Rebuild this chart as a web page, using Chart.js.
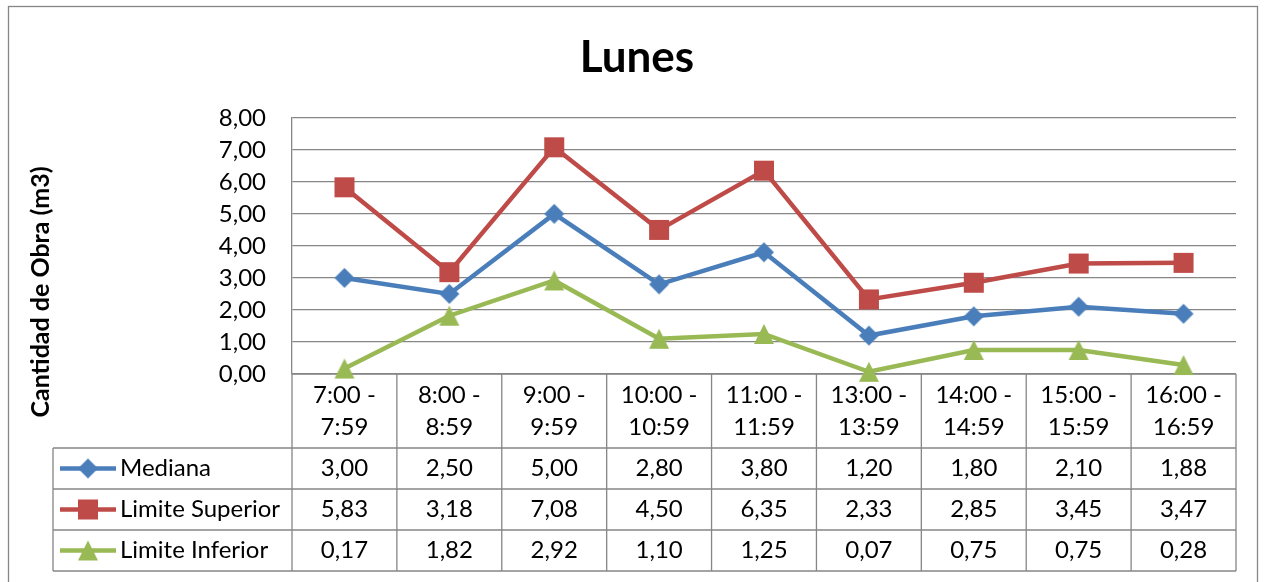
<!DOCTYPE html>
<html><head><meta charset="utf-8">
<script src="https://cdn.jsdelivr.net/npm/chart.js@4"></script>
<style>html,body{margin:0;padding:0;background:#fff}canvas{display:block}</style>
</head><body>
<canvas id="c" width="1264" height="582"></canvas>
<script>
const categories = ['7:00 - 7:59','8:00 - 8:59','9:00 - 9:59','10:00 - 10:59','11:00 - 11:59','13:00 - 13:59','14:00 - 14:59','15:00 - 15:59','16:00 - 16:59'];
const mediana = [3.00, 2.50, 5.00, 2.80, 3.80, 1.20, 1.80, 2.10, 1.88];
const limiteSuperior = [5.83, 3.18, 7.08, 4.50, 6.35, 2.33, 2.85, 3.45, 3.47];
const limiteInferior = [0.17, 1.82, 2.92, 1.10, 1.25, 0.07, 0.75, 0.75, 0.28];
const seriesNames = ['Mediana', 'Limite Superior', 'Limite Inferior'];
const yMin = 0, yMax = 8, yStep = 1;
const chartTitle = 'Lunes';
const yAxisTitle = 'Cantidad de Obra (m3)';

const FONT = 'Lato, "Open Sans", sans-serif';
const GRID = '#868686';
const fmt = v => v.toFixed(2).replace('.', ',');

function makeMarker(shape, color) {
  const s = 22, c = document.createElement('canvas');
  c.width = s; c.height = s;
  const g = c.getContext('2d');
  g.fillStyle = color;
  g.beginPath();
  if (shape === 'diamond') {
    g.moveTo(11, 1); g.lineTo(21, 11); g.lineTo(11, 21); g.lineTo(1, 11);
  } else if (shape === 'square') {
    g.rect(1, 1, 20, 20);
  } else {
    g.moveTo(11, 1); g.lineTo(21, 21); g.lineTo(1, 21);
  }
  g.closePath(); g.fill();
  return c;
}

const styles = [
  { line: '#4A7EBB', marker: makeMarker('diamond', '#4A7EBB') },
  { line: '#BE4B48', marker: makeMarker('square', '#BE4B48') },
  { line: '#98B954', marker: makeMarker('triangle', '#98B954') }
];
const seriesData = [mediana, limiteSuperior, limiteInferior];

const tablePlugin = {
  id: 'dataTable',
  beforeDatasetsDraw(chart) {
    const ctx = chart.ctx, ca = chart.chartArea, xs = chart.scales.x;
    const n = categories.length, w = (ca.right - ca.left) / n;
    const y0 = ca.bottom, labelH = 74, rowH = 41, legLeft = 53;
    const rowsY = [y0 + labelH, y0 + labelH + rowH, y0 + labelH + 2 * rowH, y0 + labelH + 3 * rowH];
    ctx.save();
    ctx.strokeStyle = GRID; ctx.lineWidth = 1.3;
    ctx.beginPath();
    ctx.moveTo(ca.left, y0); ctx.lineTo(ca.right, y0);
    rowsY.forEach(y => { ctx.moveTo(legLeft, y); ctx.lineTo(ca.right, y); });
    for (let i = 0; i <= n; i++) {
      const x = ca.left + i * w;
      ctx.moveTo(x, y0); ctx.lineTo(x, rowsY[3]);
    }
    ctx.moveTo(legLeft, rowsY[0]); ctx.lineTo(legLeft, rowsY[3]);
    ctx.stroke();

    ctx.fillStyle = '#000';
    ctx.font = '24px ' + FONT;
    ctx.textAlign = 'center'; ctx.textBaseline = 'middle';
    categories.forEach((c, i) => {
      const x = xs.getPixelForValue(i);
      const p = c.split(' - ');
      ctx.fillText(p[0] + ' -', x, y0 + 21);
      ctx.fillText(p[1], x, y0 + 53);
    });
    seriesData.forEach((arr, r) => {
      const yc = rowsY[r] + rowH / 2;
      arr.forEach((v, i) => ctx.fillText(fmt(v), xs.getPixelForValue(i), yc));
      ctx.strokeStyle = styles[r].line; ctx.lineWidth = 4.5;
      ctx.beginPath(); ctx.moveTo(60, yc); ctx.lineTo(116, yc); ctx.stroke();
      const m = styles[r].marker;
      ctx.drawImage(m, 88 - m.width / 2, yc - m.height / 2);
      ctx.textAlign = 'left';
      ctx.fillText(seriesNames[r], 120, yc);
      ctx.textAlign = 'center';
    });

    ctx.save();
    ctx.translate(41, 292);
    ctx.rotate(-Math.PI / 2);
    ctx.font = 'bold 25px ' + FONT;
    ctx.fillText(yAxisTitle, 0, 0);
    ctx.restore();

    ctx.strokeStyle = GRID; ctx.lineWidth = 1.3;
    ctx.strokeRect(8.5, 6.5, 1249, 600);
    ctx.restore();
  }
};

new Chart(document.getElementById('c'), {
  type: 'line',
  data: {
    labels: categories,
    datasets: seriesData.map((d, i) => ({
      label: seriesNames[i],
      data: d,
      borderColor: styles[i].line,
      backgroundColor: styles[i].line,
      borderWidth: 4.5,
      pointStyle: styles[i].marker,
      pointRadius: 10,
      tension: 0,
      clip: false
    }))
  },
  options: {
    responsive: false,
    animation: false,
    devicePixelRatio: 1,
    layout: { padding: { left: 38, right: 28, top: 0, bottom: 208 } },
    plugins: {
      legend: { display: false },
      tooltip: { enabled: false },
      title: {
        display: true, text: chartTitle, color: '#000',
        font: { family: FONT, size: 44, weight: 'bold', lineHeight: 1.2 },
        padding: { top: 31, bottom: 34 }
      }
    },
    scales: {
      x: { type: 'category', offset: true, display: false, grid: { display: false } },
      y: {
        min: yMin, max: yMax,
        afterFit: s => { s.width = 254; },
        ticks: { stepSize: yStep, callback: v => fmt(v), color: '#000', padding: 26, font: { family: FONT, size: 24 } },
        grid: { color: GRID, lineWidth: 1.3, drawTicks: false },
        border: { display: true, color: GRID, width: 1.3 }
      }
    }
  },
  plugins: [tablePlugin]
});
</script>
</body></html>
